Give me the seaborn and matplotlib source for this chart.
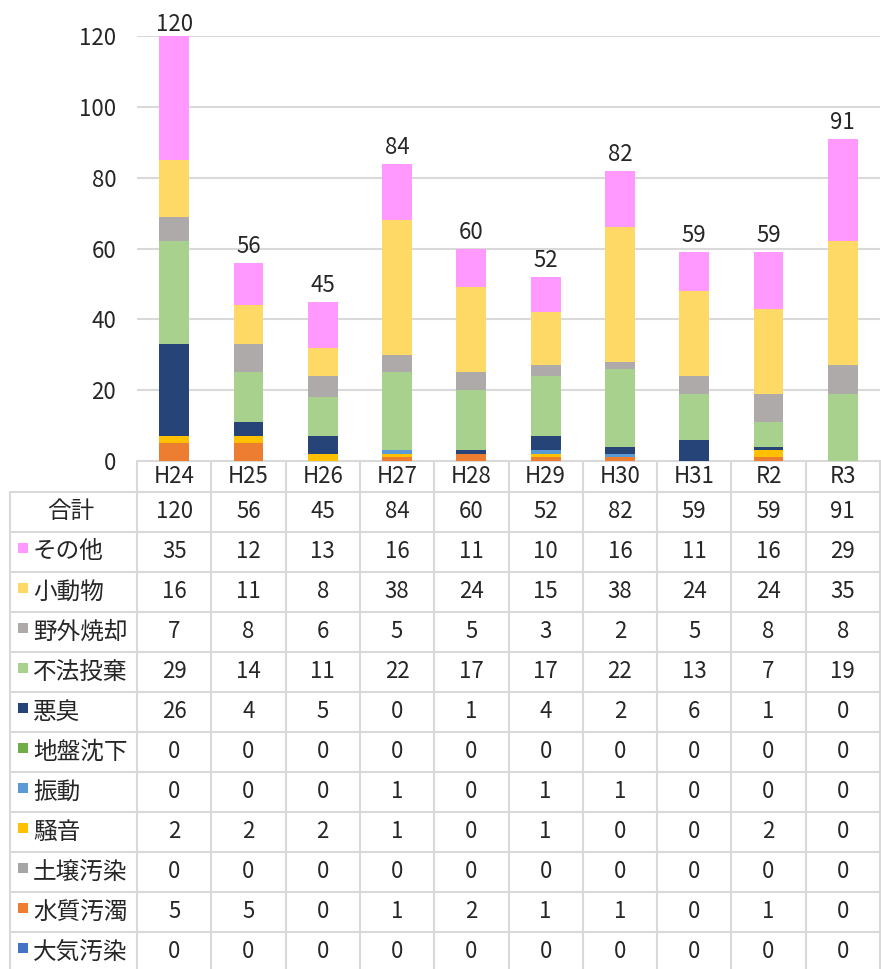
import numpy as np
import pandas as pd
import matplotlib
matplotlib.use("Agg")
import matplotlib.pyplot as plt
import seaborn as sns

# --- data -------------------------------------------------------------
years = ["H24", "H25", "H26", "H27", "H28", "H29", "H30", "H31", "R2", "R3"]

# table order (top to bottom); stacking goes the other way round
categories = ["その他", "小動物", "野外焼却", "不法投棄", "悪臭", "地盤沈下",
              "振動", "騒音", "土壌汚染", "水質汚濁", "大気汚染"]

sonota    = [35, 12, 13, 16, 11, 10, 16, 11, 16, 29]
shodobutsu = [16, 11, 8, 38, 24, 15, 38, 24, 24, 35]
yagai     = [7, 8, 6, 5, 5, 3, 2, 5, 8, 8]
fuho      = [29, 14, 11, 22, 17, 17, 22, 13, 7, 19]
akushu    = [26, 4, 5, 0, 1, 4, 2, 6, 1, 0]
jiban     = [0, 0, 0, 0, 0, 0, 0, 0, 0, 0]
shindo    = [0, 0, 0, 1, 0, 1, 1, 0, 0, 0]
soon      = [2, 2, 2, 1, 0, 1, 0, 0, 2, 0]
dojo      = [0, 0, 0, 0, 0, 0, 0, 0, 0, 0]
suishitsu = [5, 5, 0, 1, 2, 1, 1, 0, 1, 0]
taiki     = [0, 0, 0, 0, 0, 0, 0, 0, 0, 0]

series = [sonota, shodobutsu, yagai, fuho, akushu, jiban,
          shindo, soon, dojo, suishitsu, taiki]

colors = ["#FF99FF", "#FFD966", "#AEAAAA", "#A9D18E", "#264478", "#70AD47",
          "#5B9BD5", "#FFC000", "#A5A5A5", "#ED7D31", "#4472C4"]

df = pd.DataFrame(dict(zip(categories, series)), index=years)
df["合計"] = df[categories].sum(axis=1)

# --- figure -----------------------------------------------------------
sns.set_style("white")
plt.rcParams["font.family"] = ["Noto Sans CJK JP", "DejaVu Sans"]

W, H = 881, 969
fig = plt.figure(figsize=(W / 100, H / 100), dpi=100)

px_left, px_right, px_top, px_bot = 137, 880, 36, 461
ax = fig.add_axes([px_left / W, 1 - px_bot / H,
                   (px_right - px_left) / W, (px_bot - px_top) / H])

# stacked bars: draw cumulative sums from the top layer down
stack_order = categories[::-1]
cum = df[stack_order].cumsum(axis=1)
for cat in categories:
    idx = categories.index(cat)
    sns.barplot(x=years, y=cum[cat].values, color=colors[idx], width=0.4,
                linewidth=0, saturation=1, ax=ax, zorder=2)

ymax = 120
for i, total in enumerate(df["合計"]):
    # labels at the very top of the plot area get squeezed down (like Excel)
    off = 0 if total >= ymax else 3.5
    ax.annotate(str(total), (i, total), xytext=(0, off), textcoords="offset points",
                ha="center", va="bottom", fontsize=16)

ax.set_xlim(-0.5, len(years) - 0.5)
ax.set_ylim(0, ymax)
ax.set_yticks(range(0, ymax + 1, 20))
ax.tick_params(axis="y", length=0, pad=15, labelsize=16)
ax.set_xticks([])
ax.set_xlabel("")
ax.set_ylabel("")
ax.yaxis.grid(True, color="#D9D9D9", linewidth=1.5, zorder=0)
ax.set_axisbelow(True)
for s in ax.spines.values():
    s.set_visible(False)

# --- data table under the chart ---------------------------------------
tax = fig.add_axes([0, 0, 1, 1], zorder=-1)
tax.set_xlim(0, W)
tax.set_ylim(H, 0)
tax.axis("off")

line_kw = dict(color="#D9D9D9", linewidth=1.5)
col_w = (px_right - px_left) / len(years)
tbl_left = 10
header_bot = 492
row_h = 40
row_labels = ["合計"] + categories

# horizontal lines
tax.plot([px_left, px_right], [px_bot, px_bot], **line_kw)
for r in range(len(row_labels)):
    y = header_bot + r * row_h
    tax.plot([tbl_left, px_right], [y, y], **line_kw)
# vertical lines
tax.plot([tbl_left, tbl_left], [header_bot, H], **line_kw)
for c in range(len(years) + 1):
    x = px_left + c * col_w
    tax.plot([x, x], [px_bot, H], **line_kw)

# header (year) labels
for c, yr in enumerate(years):
    tax.text(px_left + (c + 0.5) * col_w, (px_bot + header_bot) / 2, yr,
             ha="center", va="center", fontsize=16)

# rows
for r, lab in enumerate(row_labels):
    yc = header_bot + (r + 0.5) * row_h
    if lab == "合計":
        tax.text(47, yc, lab, ha="left", va="center", fontsize=17)
    else:
        col = colors[categories.index(lab)]
        tax.add_patch(plt.Rectangle((18, yc - 9), 10, 10, color=col, linewidth=0))
        tax.text(33, yc, lab, ha="left", va="center", fontsize=17)
    vals = df[lab].values
    for c, v in enumerate(vals):
        tax.text(px_left + (c + 0.5) * col_w, yc, str(v),
                 ha="center", va="center", fontsize=16)

fig.savefig("out.png", dpi=100)
